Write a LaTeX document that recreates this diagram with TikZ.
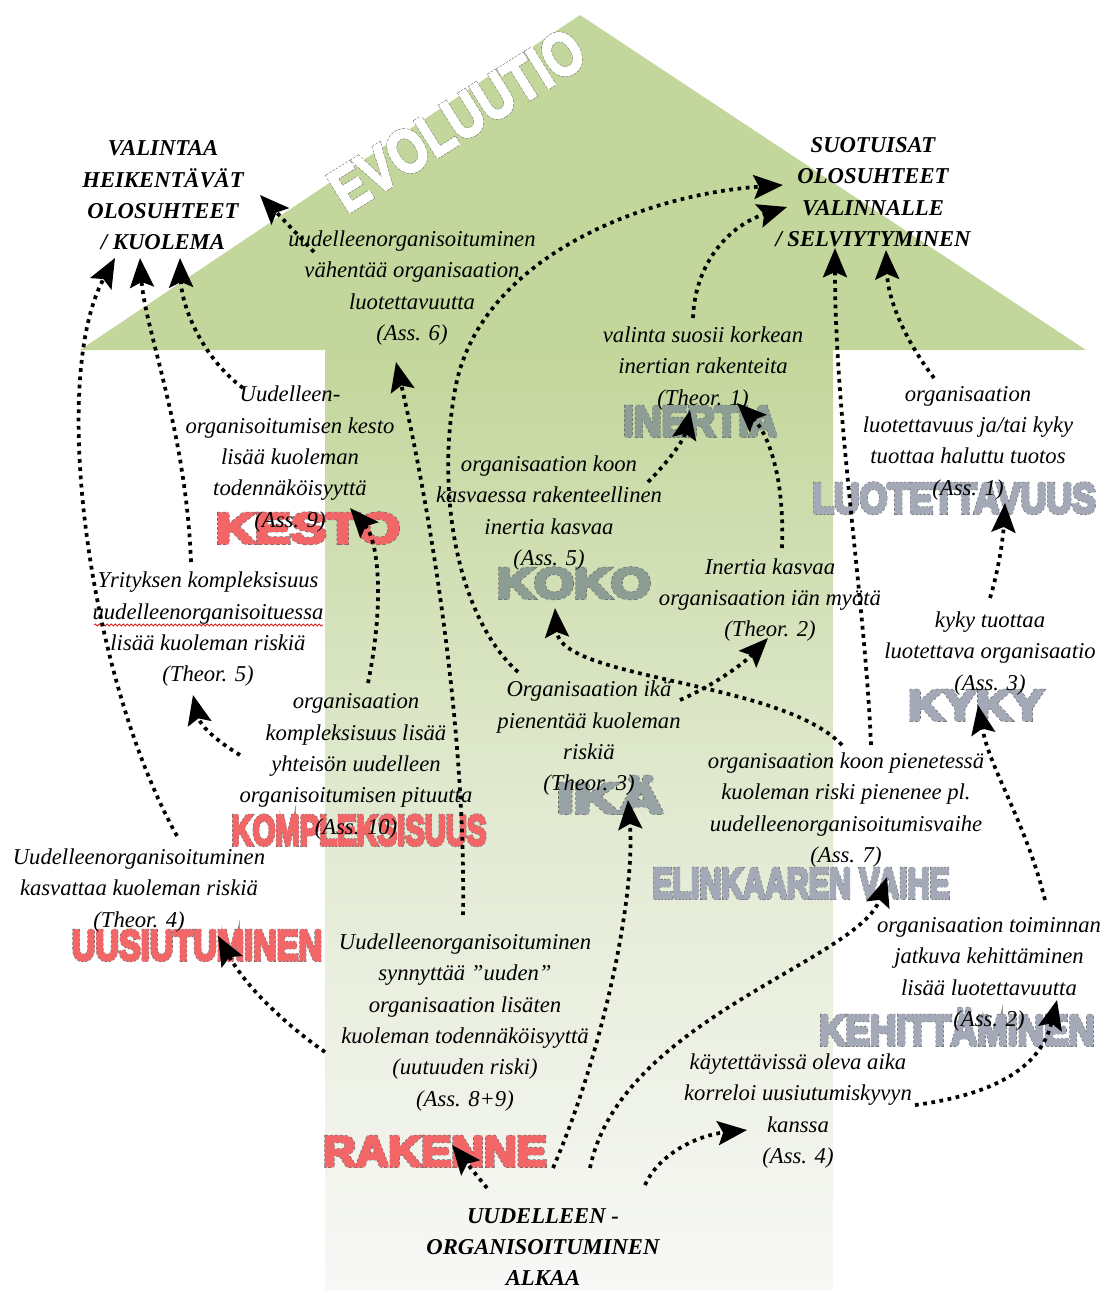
\documentclass[tikz,border=0pt]{standalone}
\usepackage{fontspec}
\setmainfont{Liberation Serif}
\newfontfamily\artfont{Liberation Sans}
\usetikzlibrary{arrows.meta,decorations.pathmorphing}

\definecolor{headgreen}{RGB}{195,214,155}
\definecolor{shaftmid}{RGB}{226,234,210}
\definecolor{shaftlow}{RGB}{248,248,247}
\definecolor{artred}{RGB}{243,102,104}
\definecolor{artgray}{RGB}{163,169,183}
\definecolor{artgreengray}{RGB}{140,158,147}
\definecolor{artpalegray}{RGB}{152,163,166}
\definecolor{spellred}{RGB}{225,30,30}

% heavy word-art letters: a wide dashed grey stroke underneath,
% then the same letters stroked solid in their own colour on top
% #1 = fill colour as PDF rgb numbers, #2 = the word
\newcommand\artword[2]{%
  \special{pdf:code 2 Tr 2.7 w [2.2 1.3] 0 d 0.40 0.40 0.40 RG}\rlap{#2}%
  \special{pdf:code 1.9 w [] 0 d #1 RG}#2%
  \special{pdf:code 0 Tr [] 0 d 0 G 1 w}}

\tikzset{
  lbl/.style={font=\itshape\fontsize{17}{23.5}\selectfont, align=center, inner sep=0pt},
  ttl/.style={font=\bfseries\itshape\fontsize{17}{23.5}\selectfont, align=center, inner sep=0pt},
  art/.style={font=\artfont\bfseries\fontsize{32}{32}\selectfont, inner sep=0pt, anchor=base, transform shape},
  dotarrow/.style={line width=2.8pt, dash pattern=on 2.8pt off 3.4pt,
    -{Stealth[length=22pt,width=18pt,inset=4pt]}},
}

\begin{document}
\begin{tikzpicture}[x=0.75pt, y=-0.75pt]
\useasboundingbox (0,0) rectangle (1106,1290);

% the big upward arrow
\fill[headgreen] (80,350) -- (580,15) -- (1086,350) -- cycle;
\shade[top color=headgreen, bottom color=shaftmid] (325,350) rectangle (833,820.5);
\shade[top color=shaftmid, bottom color=shaftlow] (325,820) rectangle (833,1290);

% word art
\node[art, text=white, font=\artfont\bfseries\fontsize{46}{46}\selectfont,
      anchor=center, rotate=32, xscale=0.8] (evo) at (457,120) {\artword{1 1 1}{EVOLUUTIO}};
\node[art, text=artred, xscale=1.26] (kesto) at (308,543) {\artword{0.953 0.4 0.408}{KESTO}};
\node[art, text=artgreengray, xscale=1.2] (koko) at (574,598) {\artword{0.549 0.62 0.576}{KOKO}};
\node[art, text=artgreengray, xscale=0.9] (inertia) at (700,436) {\artword{0.549 0.62 0.576}{INERTIA}};
\node[art, text=artgray, xscale=0.835] (luot) at (954,513) {\artword{0.639 0.663 0.718}{LUOTETTAVUUS}};
\node[art, text=artgray, xscale=1.14] (kyky) at (976,720) {\artword{0.639 0.663 0.718}{KYKY}};
\node[art, text=artpalegray, xscale=1.45] (ika) at (610,813) {\artword{0.596 0.639 0.651}{IKÄ}};
\node[art, text=artred, xscale=0.685] (kompl) at (359,845) {\artword{0.953 0.4 0.408}{KOMPLEKSISUUS}};
\node[art, text=artgray, xscale=0.71] (elink) at (801,898) {\artword{0.639 0.663 0.718}{ELINKAAREN VAIHE}};
\node[art, text=artred, xscale=0.765] (uusi) at (197,960) {\artword{0.953 0.4 0.408}{UUSIUTUMINEN}};
\node[art, text=artgray, xscale=0.855] (kehit) at (957,1045) {\artword{0.639 0.663 0.718}{KEHITTÄMINEN}};
\node[art, text=artred, xscale=1.06] (rak) at (435,1166) {\artword{0.953 0.4 0.408}{RAKENNE}};

% headings
\node[ttl] (kuolema) at (163,195.5) {VALINTAA\\HEIKENTÄVÄT\\OLOSUHTEET\\/ KUOLEMA};
\node[ttl] (selv) at (873,192) {SUOTUISAT\\OLOSUHTEET\\VALINNALLE\\/ SELVIYTYMINEN};
\node[ttl] (alku) at (543,1247) {UUDELLEEN -\\ORGANISOITUMINEN\\ALKAA};

% statements
\node[lbl] (ass6) at (412,288) {uudelleenorganisoituminen\\vähentää organisaation\\luotettavuutta\\(Ass. 6)};
\node[lbl] (th1) at (703,368.5) {valinta suosii korkean\\inertian rakenteita\\(Theor. 1)};
\node[lbl] (ass1) at (968,443) {organisaation\\luotettavuus ja/tai kyky\\tuottaa haluttu tuotos\\(Ass. 1)};
\node[lbl] (ass9) at (290,459) {Uudelleen-\\organisoitumisen kesto\\lisää kuoleman\\todennäköisyyttä\\(Ass. 9)};
\node[lbl] (ass5) at (549,513) {organisaation koon\\kasvaessa rakenteellinen\\inertia kasvaa\\(Ass. 5)};
\node[lbl] (th2) at (770,600) {Inertia kasvaa\\organisaation iän myötä\\(Theor. 2)};
\node[lbl] (th5) at (208,629.5) {Yrityksen kompleksisuus\\uudelleenorganisoituessa\\lisää kuoleman riskiä\\(Theor. 5)};
\node[lbl] (ass3) at (990,653.5) {kyky tuottaa\\luotettava organisaatio\\(Ass. 3)};
\node[lbl] (th3) at (589,738.5) {Organisaation ikä\\pienentää kuoleman\\riskiä\\(Theor. 3)};
\node[lbl] (ass10) at (356,766.5) {organisaation\\kompleksisuus lisää\\yhteisön uudelleen\\organisoitumisen pituutta\\(Ass. 10)};
\node[lbl] (ass7) at (846,810) {organisaation koon pienetessä\\kuoleman riski pienenee pl.\\uudelleenorganisoitumisvaihe\\(Ass. 7)};
\node[lbl] (th4) at (139,890.5) {Uudelleenorganisoituminen\\kasvattaa kuoleman riskiä\\(Theor. 4)};
\node[lbl] (ass89) at (465,1022.5) {Uudelleenorganisoituminen\\synnyttää ”uuden”\\organisaation lisäten\\kuoleman todennäköisyyttä\\(uutuuden riski)\\(Ass. 8+9)};
\node[lbl] (ass2) at (989,974.5) {organisaation toiminnan\\jatkuva kehittäminen\\lisää luotettavuutta\\(Ass. 2)};
\node[lbl] (ass4) at (798,1111) {käytettävissä oleva aika\\korreloi uusiutumiskyvyn\\kanssa\\(Ass. 4)};

% spelling mark under one word
\coordinate (sp1) at (94,625);
\coordinate (sp2) at (323,625);
\draw[spellred, line width=0.6pt, decorate,
      decoration={snake, amplitude=0.8pt, segment length=3pt}] (sp1) -- (sp2);

% connector end points
\coordinate (a1s) at (314,252);  \coordinate (a1e) at (260,195);
\coordinate (a2s) at (177,836);  \coordinate (a2e) at (115,258);
\coordinate (a3s) at (191,562);  \coordinate (a3e) at (140,258);
\coordinate (a4s) at (243,388);  \coordinate (a4e) at (180,258);
\coordinate (a5s) at (368,683);  \coordinate (a5e) at (350,508);
\coordinate (a6s) at (463,915);  \coordinate (a6e) at (396,362);
\coordinate (a7s) at (518,672);  \coordinate (a7m) at (455,390); \coordinate (a7e) at (783,185);
\coordinate (a8s) at (693,318);  \coordinate (a8e) at (787,207);
\coordinate (a9s) at (648,482);  \coordinate (a9e) at (690,410);
\coordinate (a10s) at (782,548); \coordinate (a10e) at (737,403);
\coordinate (a11s) at (871,745); \coordinate (a11e) at (835,248);
\coordinate (a12s) at (934,378); \coordinate (a12e) at (886,250);
\coordinate (a13s) at (990,598); \coordinate (a13e) at (1005,503);
\coordinate (a14s) at (842,745); \coordinate (a14e) at (555,608);
\coordinate (a15s) at (680,700); \coordinate (a15e) at (768,638);
\coordinate (a16s) at (1045,900); \coordinate (a16e) at (978,705);
\coordinate (a17s) at (240,755); \coordinate (a17e) at (193,695);
\coordinate (a18s) at (325,1052); \coordinate (a18e) at (218,936);
\coordinate (a19s) at (487,1188); \coordinate (a19e) at (452,1145);
\coordinate (a20s) at (553,1168); \coordinate (a20e) at (628,800);
\coordinate (a21s) at (590,1168); \coordinate (a21e) at (887,877);
\coordinate (a22s) at (645,1185); \coordinate (a22e) at (747,1130);
\coordinate (a23s) at (915,1105); \coordinate (a23e) at (1057,1000);

% dotted connectors
\draw[dotarrow] (a1s) -- (a1e);
\draw[dotarrow] (a2s) .. controls (90,680) and (48,380) .. (a2e);
\draw[dotarrow] (a3s) .. controls (186,430) and (145,330) .. (a3e);
\draw[dotarrow] (a4s) .. controls (205,360) and (182,310) .. (a4e);
\draw[dotarrow] (a5s) .. controls (385,600) and (378,540) .. (a5e);
\draw[dotarrow] (a6s) .. controls (466,720) and (428,500) .. (a6e);
\draw[dotarrow] (a7s) .. controls (460,620) and (435,500) .. (a7m)
                      .. controls (478,260) and (640,195) .. (a7e);
\draw[dotarrow] (a8s) .. controls (695,262) and (730,225) .. (a8e);
\draw[dotarrow] (a9s) .. controls (668,462) and (684,440) .. (a9e);
\draw[dotarrow] (a10s) .. controls (785,470) and (765,430) .. (a10e);
\draw[dotarrow] (a11s) .. controls (865,600) and (835,420) .. (a11e);
\draw[dotarrow] (a12s) .. controls (905,340) and (888,300) .. (a12e);
\draw[dotarrow] (a13s) .. controls (998,572) and (1003,540) .. (a13e);
\draw[dotarrow] (a14s) .. controls (780,680) and (560,680) .. (a14e);
\draw[dotarrow] (a15s) .. controls (712,686) and (742,665) .. (a15e);
\draw[dotarrow] (a16s) .. controls (1025,820) and (990,770) .. (a16e);
\draw[dotarrow] (a17s) .. controls (215,740) and (200,725) .. (a17e);
\draw[dotarrow] (a18s) .. controls (282,1022) and (245,985) .. (a18e);
\draw[dotarrow] (a19s) -- (a19e);
\draw[dotarrow] (a20s) .. controls (600,1060) and (636,900) .. (a20e);
\draw[dotarrow] (a21s) .. controls (620,1020) and (860,960) .. (a21e);
\draw[dotarrow] (a22s) .. controls (660,1152) and (700,1135) .. (a22e);
\draw[dotarrow] (a23s) .. controls (990,1095) and (1040,1070) .. (a23e);
\end{tikzpicture}
\end{document}
